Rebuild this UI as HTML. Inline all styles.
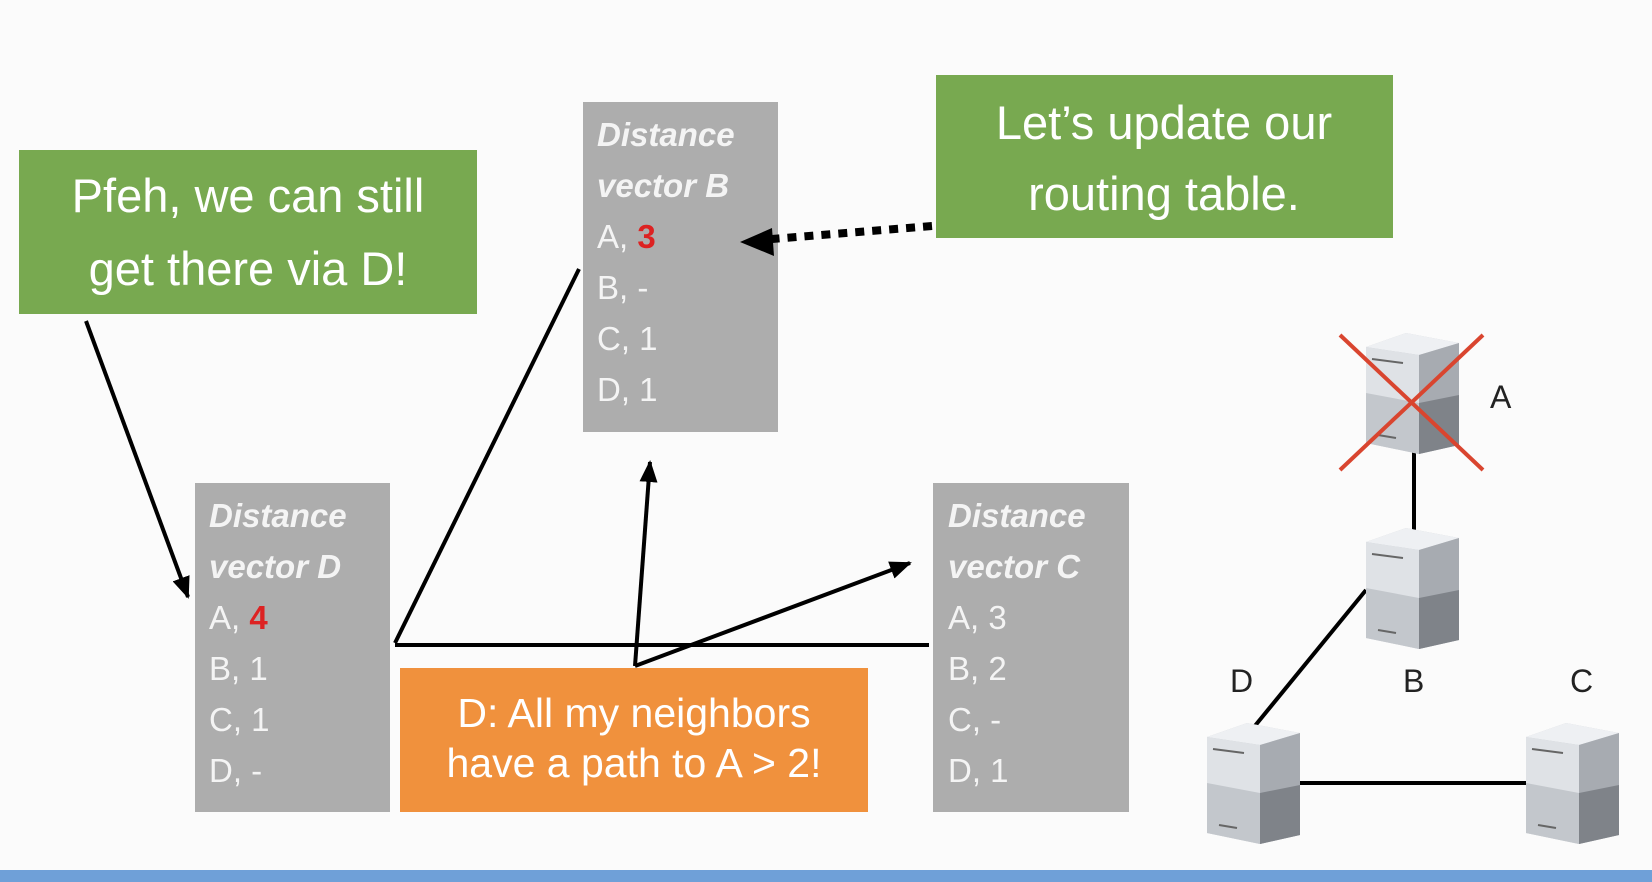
<!DOCTYPE html>
<html><head><meta charset="utf-8"><style>
html,body{margin:0;padding:0;background:#fbfbfb;}
svg{display:block}
text{font-family:"Liberation Sans",sans-serif;}
</style></head><body>
<svg width="1652" height="882" viewBox="0 0 1652 882" xmlns="http://www.w3.org/2000/svg">
<defs>
<marker id="ah" markerWidth="22" markerHeight="18" refX="20" refY="9" orient="auto" markerUnits="userSpaceOnUse">
<path d="M0,0 L22,9 L0,18 z" fill="#000"/></marker>
<g id="server">
<path d="M0,14 L40,0 L93,10 L93,112 L53,121 L0,110 z" fill="#c9ccd1"/>
<path d="M0,14 L40,0 L93,10 L53,22 z" fill="#eef0f3"/>
<path d="M53,22 L93,10 L93,112 L53,121 z" fill="#a7abb1"/>
<path d="M53,70 L93,62 L93,112 L53,121 z" fill="#7f8389"/>
<path d="M0,14 L53,22 L53,121 L0,110 z" fill="#dfe2e6"/>
<path d="M0,60 L53,70 L53,121 L0,110 z" fill="#c3c7cc"/>
<line x1="6" y1="26" x2="37" y2="30" stroke="#666" stroke-width="2"/>
<line x1="12" y1="102" x2="30" y2="105" stroke="#666" stroke-width="2"/>
</g>
</defs>

<rect x="19" y="150" width="458" height="164" fill="#78a950"/>
<text x="248" y="212" font-size="47" fill="#fff" text-anchor="middle">Pfeh, we can still</text>
<text x="248" y="285" font-size="47" fill="#fff" text-anchor="middle">get there via D!</text>

<rect x="936" y="75" width="457" height="163" fill="#78a950"/>
<text x="1164" y="139" font-size="47" fill="#fff" text-anchor="middle">Let’s update our</text>
<text x="1164" y="210" font-size="47" fill="#fff" text-anchor="middle">routing table.</text>

<g font-size="33" fill="#f4f4f4">
<rect x="583" y="102" width="195" height="330" fill="#adadad"/>
<text x="597" y="146" font-weight="bold" font-style="italic">Distance</text>
<text x="597" y="197" font-weight="bold" font-style="italic">vector B</text>
<text x="597" y="248">A, <tspan fill="#d22" font-weight="bold">3</tspan></text>
<text x="597" y="299">B, -</text>
<text x="597" y="350">C, 1</text>
<text x="597" y="401">D, 1</text>

<rect x="195" y="483" width="195" height="329" fill="#adadad"/>
<text x="209" y="527" font-weight="bold" font-style="italic">Distance</text>
<text x="209" y="578" font-weight="bold" font-style="italic">vector D</text>
<text x="209" y="629">A, <tspan fill="#d22" font-weight="bold">4</tspan></text>
<text x="209" y="680">B, 1</text>
<text x="209" y="731">C, 1</text>
<text x="209" y="782">D, -</text>

<rect x="933" y="483" width="196" height="329" fill="#adadad"/>
<text x="948" y="527" font-weight="bold" font-style="italic">Distance</text>
<text x="948" y="578" font-weight="bold" font-style="italic">vector C</text>
<text x="948" y="629">A, 3</text>
<text x="948" y="680">B, 2</text>
<text x="948" y="731">C, -</text>
<text x="948" y="782">D, 1</text>
</g>

<rect x="400" y="668" width="468" height="144" fill="#f0913d"/>
<text x="634" y="727" font-size="41" fill="#fff" text-anchor="middle">D: All my neighbors</text>
<text x="634" y="777" font-size="41" fill="#fff" text-anchor="middle">have a path to A &gt; 2!</text>

<g stroke="#000" stroke-width="4" fill="none">
<line x1="86" y1="321" x2="188" y2="597" marker-end="url(#ah)"/>
<line x1="395" y1="643" x2="579" y2="269"/>
<line x1="395" y1="645" x2="929" y2="645"/>
<line x1="635" y1="666" x2="650" y2="462" marker-end="url(#ah)"/>
<line x1="635" y1="666" x2="910" y2="563" marker-end="url(#ah)"/>
<line x1="932" y1="226" x2="760" y2="240" stroke-width="8" stroke-dasharray="9,8"/>
</g>
<path d="M740,242 L772,228 L774,256 z" fill="#000"/>

<g stroke="#000" stroke-width="4">
<line x1="1414" y1="450" x2="1414" y2="532"/>
<line x1="1366" y1="590" x2="1254" y2="727"/>
<line x1="1290" y1="783" x2="1535" y2="783"/>
</g>
<use href="#server" x="1366" y="333"/>
<use href="#server" x="1366" y="528"/>
<use href="#server" x="1207" y="723"/>
<use href="#server" x="1526" y="723"/>
<g stroke="#d9452f" stroke-width="4">
<line x1="1340" y1="335" x2="1483" y2="470"/>
<line x1="1483" y1="335" x2="1340" y2="470"/>
</g>
<g font-size="32" fill="#222">
<text x="1490" y="408">A</text>
<text x="1403" y="692">B</text>
<text x="1230" y="692">D</text>
<text x="1570" y="692">C</text>
</g>

<rect x="0" y="870" width="1652" height="12" fill="#6fa0d8"/>
</svg>
</body></html>
